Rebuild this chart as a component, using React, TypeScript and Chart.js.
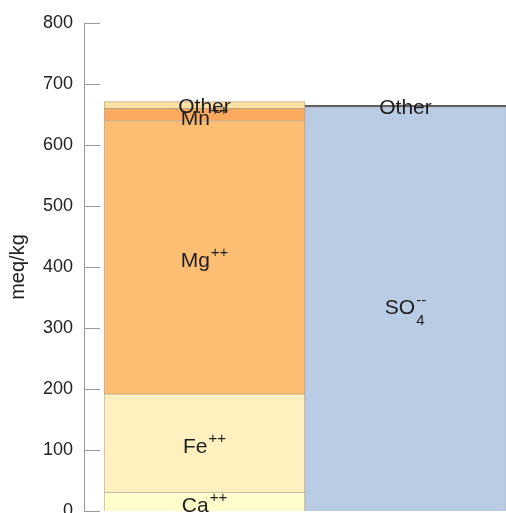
import React, { useEffect, useRef } from "react";
import { Chart, registerables } from "chart.js";

Chart.register(...registerables);

// ---- data ----
const categories = ["Cations", "Anions"];
const caValues = [31, 0];
const feValues = [161, 0];
const mgValues = [448, 0];
const mnValues = [20, 0];
const otherCationValues = [11, 0];
const so4Values = [0, 662];
const otherAnionValues = [0, 3];

const seriesNames = ["Ca++", "Fe++", "Mg++", "Mn++", "Other", "SO4--", "Other"];
const labelMain = ["Ca", "Fe", "Mg", "Mn", "Other", "SO", "Other"];
const labelSup = ["++", "++", "++", "++", "", "--", ""];
const labelSub = ["", "", "", "", "", "4", ""];
const seriesColors = ["#FEFDCB", "#FEF1BF", "#FDBE74", "#F9AA5F", "#FDE1A2", "#B9CCE4", "#6a6a6a"];
const seriesBorders = [
  "rgba(120,110,90,0.55)",
  "rgba(120,110,90,0.55)",
  "rgba(150,110,70,0.6)",
  "rgba(150,110,70,0.6)",
  "rgba(150,110,70,0.6)",
  "rgba(120,130,150,0.5)",
  "#5a5a5a",
];

const yTicksMin = 0;
const yTicksMax = 800;
const yTicksStep = 100;
const yTitle = "meq/kg";

const FONT = '"Liberation Sans", Arial, Helvetica, sans-serif';

const axisPlugin = {
  id: "customAxis",
  afterDraw(chart: any) {
    const ctx = chart.ctx;
    const y = chart.scales.y;
    const axisX = 84;
    ctx.save();
    ctx.strokeStyle = "#9a9a9a";
    ctx.lineWidth = 1;
    ctx.beginPath();
    ctx.moveTo(axisX + 0.5, Math.round(y.getPixelForValue(yTicksMax)) + 0.5);
    ctx.lineTo(axisX + 0.5, Math.round(y.getPixelForValue(yTicksMin)) + 0.5);
    y.ticks.forEach((t: any) => {
      const py = Math.round(y.getPixelForValue(t.value)) + 0.5;
      ctx.moveTo(axisX, py);
      ctx.lineTo(axisX + 16, py);
    });
    ctx.stroke();
    ctx.restore();
  },
};

const labelPlugin = {
  id: "segmentLabels",
  afterDatasetsDraw(chart: any) {
    const ctx = chart.ctx;
    ctx.save();
    ctx.fillStyle = "#1e1e1e";
    ctx.textAlign = "left";
    ctx.textBaseline = "alphabetic";
    chart.data.datasets.forEach((ds: any, i: number) => {
      const meta = chart.getDatasetMeta(i);
      meta.data.forEach((el: any, j: number) => {
        if (!ds.data[j]) return;
        const cx = el.x;
        const cy = (el.y + el.base) / 2;
        const main = labelMain[i];
        const sup = labelSup[i];
        const sub = labelSub[i];
        ctx.font = `21px ${FONT}`;
        const mainW = ctx.measureText(main).width;
        ctx.font = `15px ${FONT}`;
        const supW = sup ? ctx.measureText(sup).width : 0;
        const subW = sub ? ctx.measureText(sub).width : 0;
        const scriptW = Math.max(supW, subW);
        const total = mainW + (scriptW ? scriptW + 1 : 0);
        const sx = cx - total / 2;
        let B = cy + 7.5;
        if (sup && sub) B = cy + 5;
        else if (sup) B = cy + 10;
        ctx.font = `21px ${FONT}`;
        ctx.fillText(main, sx, B);
        ctx.font = `15px ${FONT}`;
        if (sup) ctx.fillText(sup, sx + mainW + 1, sub ? B - 9 : B - 10);
        if (sub) ctx.fillText(sub, sx + mainW + 1, B + 11);
      });
    });
    ctx.restore();
  },
};

export default function App() {
  const canvasRef = useRef<HTMLCanvasElement | null>(null);

  useEffect(() => {
    if (!canvasRef.current) return;
    const seriesData = [caValues, feValues, mgValues, mnValues, otherCationValues, so4Values, otherAnionValues];
    const chart = new Chart(canvasRef.current, {
      type: "bar",
      data: {
        labels: categories,
        datasets: seriesData.map((d, i) => ({
          label: seriesNames[i],
          data: d,
          backgroundColor: seriesColors[i],
          borderColor: seriesBorders[i],
          borderWidth: { top: 1, left: 1, right: 1, bottom: 0 },
          borderSkipped: false,
          barPercentage: 1,
          categoryPercentage: 1,
        })),
      },
      options: {
        responsive: false,
        animation: false,
        layout: { padding: { top: 23, bottom: 2, left: 0, right: 0 } },
        plugins: {
          legend: { display: false },
          tooltip: { enabled: false },
        },
        scales: {
          x: { stacked: true, display: false },
          y: {
            stacked: true,
            min: yTicksMin,
            max: yTicksMax,
            border: { display: false },
            grid: { display: false, drawTicks: false },
            ticks: {
              stepSize: yTicksStep,
              padding: 31,
              color: "#222",
              font: { family: FONT, size: 18 },
            },
            title: {
              display: true,
              text: yTitle,
              color: "#222",
              font: { family: FONT, size: 20 },
              padding: { top: 6, bottom: 0 },
            },
            afterFit: (s: any) => {
              s.width = 104;
              s.paddingTop = 0;
              s.paddingBottom = 0;
            },
          },
        },
      } as any,
      plugins: [axisPlugin, labelPlugin],
    });
    return () => chart.destroy();
  }, []);

  return (
    <div style={{ position: "fixed", left: 0, top: 0, width: 506, height: 513, background: "#fff" }}>
      <canvas ref={canvasRef} width={506} height={513} style={{ display: "block" }} />
    </div>
  );
}
